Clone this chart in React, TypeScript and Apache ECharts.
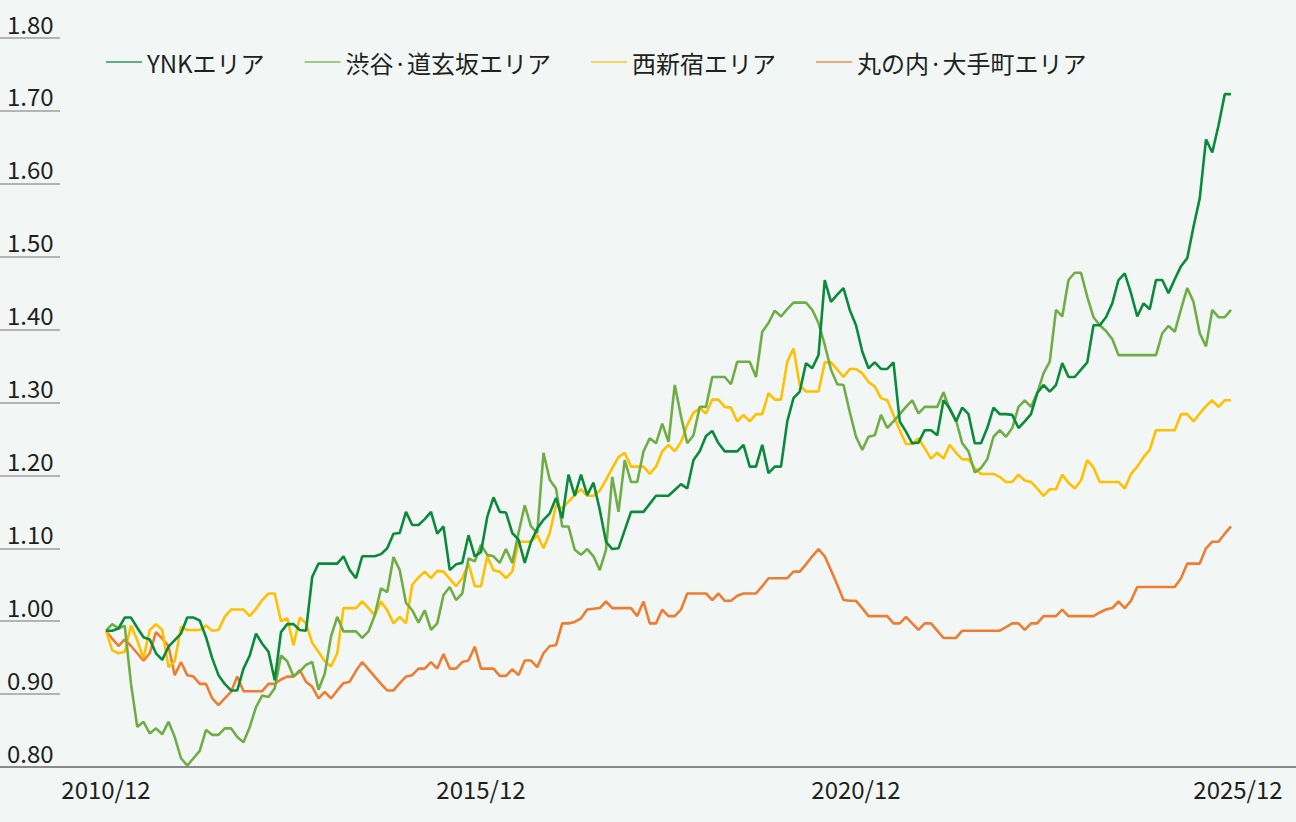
import React, { useEffect, useRef } from "react";
import * as echarts from "echarts";

const FONT = "'Noto Sans CJK JP', 'Noto Sans', sans-serif";
const BG = "#f2f7f6";

const seriesNames = ["YNKエリア", "渋谷·道玄坂エリア", "西新宿エリア", "丸の内·大手町エリア"];
const seriesColors = ["#0b8a3b", "#70ad47", "#ffc000", "#ed7d31"];

const startYear = 2010;
const startMonth = 12;
const monthCount = 181;
const months: string[] = [];
for (let k = 0; k < monthCount; k++) {
  const m = startMonth - 1 + k;
  const y = startYear + Math.floor(m / 12);
  months.push(`${y}/${String((m % 12) + 1).padStart(2, "0")}`);
}
const shownLabels = ["2010/12", "2015/12", "2020/12", "2025/12"];

const yTicks = [0.8, 0.9, 1.0, 1.1, 1.2, 1.3, 1.4, 1.5, 1.6, 1.7, 1.8];

const ynk = [
  0.987, 0.987, 0.990, 1.005, 1.005, 0.991, 0.978, 0.975, 0.956, 0.947,
  0.965, 0.974, 0.983, 1.005, 1.005, 1.001, 0.978, 0.949, 0.926, 0.914,
  0.905, 0.905, 0.935, 0.953, 0.983, 0.969, 0.958, 0.919, 0.985, 0.996,
  0.996, 0.988, 0.987, 1.061, 1.079, 1.079, 1.079, 1.079, 1.089, 1.070,
  1.059, 1.089, 1.089, 1.089, 1.092, 1.100, 1.120, 1.121, 1.150, 1.132,
  1.132, 1.140, 1.150, 1.120, 1.130, 1.070, 1.078, 1.080, 1.118, 1.089,
  1.095, 1.143, 1.170, 1.150, 1.149, 1.121, 1.112, 1.080, 1.109, 1.127,
  1.139, 1.148, 1.169, 1.141, 1.201, 1.172, 1.201, 1.173, 1.190, 1.153,
  1.109, 1.099, 1.100, 1.125, 1.150, 1.150, 1.150, 1.161, 1.172, 1.172,
  1.172, 1.180, 1.188, 1.182, 1.221, 1.233, 1.254, 1.261, 1.244, 1.233,
  1.233, 1.233, 1.242, 1.212, 1.212, 1.242, 1.203, 1.212, 1.212, 1.274,
  1.306, 1.315, 1.354, 1.347, 1.365, 1.468, 1.438, 1.448, 1.457, 1.427,
  1.406, 1.370, 1.347, 1.355, 1.346, 1.346, 1.355, 1.274, 1.260, 1.244,
  1.245, 1.262, 1.262, 1.255, 1.303, 1.292, 1.274, 1.293, 1.284, 1.244,
  1.244, 1.265, 1.293, 1.284, 1.284, 1.283, 1.265, 1.274, 1.284, 1.313,
  1.324, 1.315, 1.324, 1.354, 1.335, 1.335, 1.345, 1.355, 1.406, 1.406,
  1.417, 1.436, 1.468, 1.477, 1.450, 1.418, 1.436, 1.428, 1.468, 1.468,
  1.450, 1.469, 1.487, 1.498, 1.541, 1.580, 1.661, 1.643, 1.680, 1.723,
  1.723,
];

const shibuya = [
  0.987, 0.996, 0.990, 0.994, 0.914, 0.855, 0.862, 0.846, 0.853, 0.845,
  0.862, 0.841, 0.812, 0.802, 0.812, 0.822, 0.851, 0.844, 0.844, 0.853,
  0.853, 0.841, 0.834, 0.855, 0.882, 0.898, 0.896, 0.908, 0.953, 0.945,
  0.924, 0.931, 0.940, 0.944, 0.906, 0.928, 0.979, 1.006, 0.986, 0.986,
  0.986, 0.977, 0.986, 1.008, 1.045, 1.040, 1.088, 1.070, 1.025, 1.015,
  0.998, 1.015, 0.988, 0.997, 1.036, 1.047, 1.029, 1.038, 1.086, 1.082,
  1.105, 1.091, 1.089, 1.080, 1.099, 1.080, 1.121, 1.159, 1.130, 1.121,
  1.231, 1.194, 1.182, 1.130, 1.130, 1.098, 1.091, 1.099, 1.089, 1.070,
  1.098, 1.198, 1.150, 1.221, 1.191, 1.191, 1.233, 1.251, 1.244, 1.271,
  1.246, 1.324, 1.281, 1.244, 1.255, 1.294, 1.294, 1.335, 1.335, 1.335,
  1.325, 1.356, 1.356, 1.356, 1.335, 1.397, 1.409, 1.426, 1.418, 1.428,
  1.437, 1.437, 1.437, 1.427, 1.409, 1.379, 1.345, 1.325, 1.324, 1.287,
  1.253, 1.235, 1.253, 1.255, 1.283, 1.265, 1.274, 1.284, 1.294, 1.303,
  1.285, 1.294, 1.294, 1.294, 1.314, 1.290, 1.276, 1.244, 1.233, 1.204,
  1.210, 1.222, 1.253, 1.262, 1.253, 1.265, 1.294, 1.303, 1.294, 1.313,
  1.340, 1.356, 1.427, 1.418, 1.468, 1.478, 1.478, 1.445, 1.417, 1.406,
  1.398, 1.387, 1.365, 1.365, 1.365, 1.365, 1.365, 1.365, 1.365, 1.395,
  1.405, 1.397, 1.428, 1.457, 1.438, 1.395, 1.377, 1.427, 1.417, 1.417,
  1.427,
];

const nishiShinjuku = [
  0.987, 0.960, 0.956, 0.958, 0.994, 0.974, 0.949, 0.988, 0.996, 0.988,
  0.937, 0.945, 0.992, 0.988, 0.988, 0.988, 0.994, 0.987, 0.988, 1.006,
  1.016, 1.016, 1.016, 1.007, 1.017, 1.029, 1.038, 1.038, 1.000, 1.004,
  0.967, 1.005, 0.997, 0.970, 0.958, 0.945, 0.938, 0.956, 1.018, 1.018,
  1.018, 1.027, 1.018, 1.008, 1.027, 1.015, 0.997, 1.006, 0.997, 1.050,
  1.060, 1.068, 1.059, 1.069, 1.068, 1.058, 1.048, 1.059, 1.079, 1.048,
  1.048, 1.089, 1.070, 1.068, 1.059, 1.068, 1.109, 1.109, 1.109, 1.118,
  1.100, 1.121, 1.159, 1.155, 1.164, 1.173, 1.181, 1.172, 1.172, 1.179,
  1.194, 1.210, 1.225, 1.231, 1.212, 1.212, 1.212, 1.202, 1.212, 1.233,
  1.242, 1.233, 1.246, 1.269, 1.286, 1.292, 1.285, 1.304, 1.304, 1.294,
  1.293, 1.274, 1.283, 1.274, 1.284, 1.284, 1.313, 1.304, 1.304, 1.356,
  1.374, 1.324, 1.315, 1.315, 1.315, 1.355, 1.355, 1.345, 1.335, 1.346,
  1.346, 1.340, 1.328, 1.322, 1.306, 1.303, 1.283, 1.262, 1.243, 1.243,
  1.251, 1.237, 1.223, 1.231, 1.223, 1.242, 1.231, 1.222, 1.222, 1.210,
  1.202, 1.202, 1.202, 1.198, 1.191, 1.191, 1.201, 1.193, 1.191, 1.182,
  1.172, 1.181, 1.181, 1.201, 1.190, 1.182, 1.193, 1.221, 1.211, 1.191,
  1.191, 1.191, 1.191, 1.182, 1.202, 1.212, 1.225, 1.235, 1.262, 1.262,
  1.262, 1.262, 1.284, 1.284, 1.274, 1.285, 1.295, 1.303, 1.294, 1.303,
  1.303,
];

const marunouchi = [
  0.987, 0.976, 0.966, 0.975, 0.966, 0.956, 0.946, 0.956, 0.985, 0.976,
  0.966, 0.926, 0.944, 0.926, 0.924, 0.914, 0.914, 0.894, 0.885, 0.894,
  0.903, 0.924, 0.904, 0.904, 0.904, 0.904, 0.914, 0.914, 0.920, 0.924,
  0.924, 0.933, 0.917, 0.910, 0.894, 0.903, 0.894, 0.905, 0.915, 0.917,
  0.932, 0.944, 0.934, 0.924, 0.914, 0.905, 0.905, 0.915, 0.924, 0.926,
  0.935, 0.935, 0.944, 0.935, 0.955, 0.935, 0.935, 0.944, 0.946, 0.965,
  0.935, 0.935, 0.935, 0.925, 0.925, 0.934, 0.926, 0.946, 0.946, 0.937,
  0.956, 0.966, 0.967, 0.997, 0.997, 0.999, 1.004, 1.016, 1.017, 1.018,
  1.027, 1.018, 1.018, 1.018, 1.018, 1.007, 1.027, 0.997, 0.997, 1.016,
  1.007, 1.007, 1.016, 1.038, 1.038, 1.038, 1.038, 1.029, 1.038, 1.028,
  1.028, 1.035, 1.038, 1.038, 1.038, 1.048, 1.059, 1.059, 1.059, 1.059,
  1.068, 1.068, 1.078, 1.089, 1.099, 1.089, 1.070, 1.050, 1.029, 1.028,
  1.028, 1.018, 1.007, 1.007, 1.007, 1.007, 0.997, 0.997, 1.006, 0.997,
  0.988, 0.997, 0.997, 0.987, 0.977, 0.977, 0.977, 0.987, 0.987, 0.987,
  0.987, 0.987, 0.987, 0.987, 0.992, 0.997, 0.997, 0.988, 0.997, 0.997,
  1.007, 1.007, 1.007, 1.016, 1.007, 1.007, 1.007, 1.007, 1.007, 1.012,
  1.016, 1.018, 1.027, 1.018, 1.028, 1.047, 1.047, 1.047, 1.047, 1.047,
  1.047, 1.047, 1.059, 1.079, 1.079, 1.079, 1.100, 1.109, 1.109, 1.120,
  1.130,
];

const seriesData = [ynk, shibuya, nishiShinjuku, marunouchi];

export default function App() {
  const ref = useRef<HTMLDivElement>(null);

  useEffect(() => {
    if (!ref.current) return;
    const chart = echarts.init(ref.current, null, { renderer: "svg" });
    const yMin = yTicks[0];
    const yMax = yTicks[yTicks.length - 1];
    const yStep = 0.1;
    const gridTop = 38;
    const gridBottom = 55;
    const FS = 24;
    const lastLabel = shownLabels[shownLabels.length - 1];

    const drawOrder = [3, 2, 1, 0];

    chart.setOption({
      animation: false,
      backgroundColor: BG,
      textStyle: { fontFamily: FONT },
      legend: {
        data: seriesNames.map((n, i) => ({
          name: n,
          icon: "rect",
          itemStyle: { color: seriesColors[i], opacity: 0.85 },
        })),
        left: 101,
        top: 45,
        itemWidth: 36,
        itemHeight: 1.6,
        itemGap: 40,
        textStyle: { fontSize: FS, color: "#231f20", fontFamily: FONT },
      },
      grid: [
        { left: 106, right: 65, top: gridTop, bottom: gridBottom },
        { left: 0, width: 60, top: gridTop, bottom: gridBottom },
        { left: 0, right: 0, top: gridTop, bottom: gridBottom },
      ],
      xAxis: [
        {
          type: "category",
          gridIndex: 0,
          data: months,
          boundaryGap: false,
          axisLine: { show: false },
          axisTick: { show: false },
          axisLabel: {
            interval: 0,
            formatter: (v: string) =>
              v === lastLabel ? `{last|${v}}` : shownLabels.includes(v) ? v : "",
            rich: {
              last: {
                fontSize: FS,
                color: "#231f20",
                fontFamily: FONT,
                padding: [0, 0, 0, 14],
              },
            },
            fontSize: FS,
            color: "#231f20",
            margin: 9,
            fontFamily: FONT,
          },
          splitLine: { show: false },
        },
        {
          type: "category",
          gridIndex: 1,
          data: ["a"],
          show: false,
        },
        {
          type: "category",
          gridIndex: 2,
          data: ["a"],
          axisLine: { show: true, lineStyle: { color: "#8a8a8a", width: 2 } },
          axisTick: { show: false },
          axisLabel: { show: false },
        },
      ],
      yAxis: [
        {
          type: "value",
          gridIndex: 0,
          min: yMin,
          max: yMax,
          interval: yStep,
          axisLabel: { show: false },
          axisLine: { show: false },
          axisTick: { show: false },
          splitLine: { show: false },
        },
        {
          type: "value",
          gridIndex: 1,
          min: yMin,
          max: yMax,
          interval: yStep,
          axisLine: { show: false },
          axisTick: { show: false },
          splitLine: { show: true, lineStyle: { color: "#b4b4b4", width: 2 } },
          axisLabel: {
            inside: true,
            margin: 7,
            align: "left",
            verticalAlign: "bottom",
            padding: [0, 0, 3, 0],
            fontSize: FS,
            color: "#231f20",
            fontFamily: FONT,
            formatter: (v: number) => v.toFixed(2),
          },
        },
        {
          type: "value",
          gridIndex: 2,
          min: yMin,
          max: yMax,
          show: false,
        },
      ],
      series: drawOrder.map((idx) => ({
        name: seriesNames[idx],
        type: "line",
        xAxisIndex: 0,
        yAxisIndex: 0,
        data: seriesData[idx],
        symbol: "none",
        color: seriesColors[idx],
        lineStyle: { width: 2.6, color: seriesColors[idx] },
        z: 2 + (3 - idx),
      })),
    });

    return () => chart.dispose();
  }, []);

  return (
    <div
      ref={ref}
      style={{ position: "fixed", left: 0, top: 0, width: 1296, height: 822, background: BG }}
    />
  );
}
